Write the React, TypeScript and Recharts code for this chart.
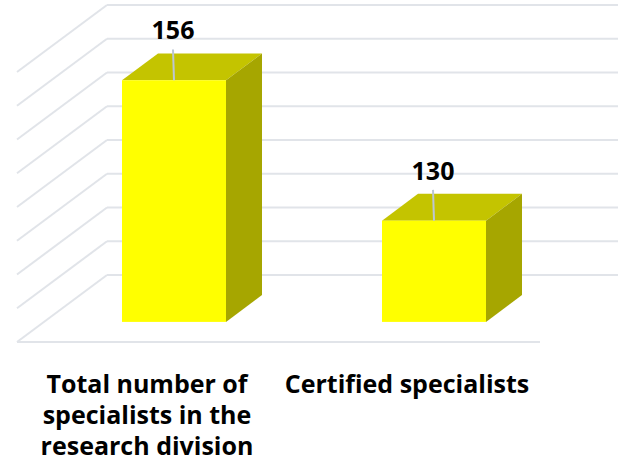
import { BarChart, Bar, XAxis, YAxis, CartesianGrid, LabelList } from "recharts";

const categories = [
    "Total number of specialists in the research division",
    "Certified specialists",
];
const specialists = [156, 130];
const valueTicks = [111.25, 117.5, 123.75, 130, 136.25, 142.5, 148.75, 155, 161.25];

const chartData = categories.map((name, i) => ({ name, value: specialists[i] }));

const WIDTH = 628;
const HEIGHT = 467;
const XAXIS_HEIGHT = 30;
const MARGIN = { top: 5, right: 1, bottom: 192 - XAXIS_HEIGHT, left: 107 };
const FLOOR_BACK = HEIGHT - MARGIN.bottom - XAXIS_HEIGHT;

// oblique 3D offset from back wall to the front edge of the floor
const DEPTH_DX = -90;
const DEPTH_DY = 67;
const BAR_FRONT = 0.7;
const BAR_BACK = 0.3;

const FONT = "'Open Sans', 'Noto Sans', sans-serif";
const GRID = "#e1e4e9";
const WRAP_CHARS = 22;

function wrapWords(label: string) {
    const lines: string[] = [];
    let current = "";
    for (const word of label.split(" ")) {
        const next = current ? `${current} ${word}` : word;
        if (next.length > WRAP_CHARS && current) {
            lines.push(current);
            current = word;
        } else {
            current = next;
        }
    }
    if (current) lines.push(current);
    return lines;
}

function GridLine(props: any) {
    const { x1, y1, x2, y2 } = props;
    const isFloor = Math.abs(y1 - FLOOR_BACK) < 1;
    return (
        <g key={props.key}>
            <line x1={x1} y1={y1} x2={x2} y2={y2} stroke={GRID} strokeWidth={2} />
            <line x1={x1} y1={y1} x2={x1 + DEPTH_DX} y2={y1 + DEPTH_DY} stroke={GRID} strokeWidth={2} />
            {isFloor && (
                <line
                    x1={x1 + DEPTH_DX}
                    y1={y1 + DEPTH_DY}
                    x2={x2 + DEPTH_DX + 3}
                    y2={y2 + DEPTH_DY}
                    stroke={GRID}
                    strokeWidth={2}
                />
            )}
        </g>
    );
}

function Box(props: any) {
    const { x, y, width, height } = props;
    const fx = x + DEPTH_DX * BAR_FRONT;
    const fy = y + DEPTH_DY * BAR_FRONT;
    const bx = x + DEPTH_DX * BAR_BACK;
    const by = y + DEPTH_DY * BAR_BACK;
    return (
        <g>
            <polygon
                points={`${fx},${fy} ${fx + width},${fy} ${bx + width},${by} ${bx},${by}`}
                fill="#c4c400"
            />
            <polygon
                points={`${fx + width},${fy} ${bx + width},${by} ${bx + width},${by + height} ${fx + width},${fy + height}`}
                fill="#a6a600"
            />
            <rect x={fx} y={fy} width={width} height={height} fill="#ffff00" />
        </g>
    );
}

function ValueLabel(props: any) {
    const vb = props.viewBox || props;
    const x = props.x ?? vb.x;
    const y = props.y ?? vb.y;
    const width = props.width ?? vb.width;
    const cx = x + width / 2 + DEPTH_DX * BAR_FRONT;
    const frontTop = y + DEPTH_DY * BAR_FRONT;
    const baseline = y + DEPTH_DY * BAR_BACK - 14;
    return (
        <g>
            <line x1={cx} y1={frontTop} x2={cx - 1} y2={baseline + 10} stroke="#bcc6d4" strokeWidth={2} />
            <text
                x={cx - 1}
                y={baseline}
                textAnchor="middle"
                fontFamily={FONT}
                fontWeight={700}
                fontSize={25}
                fill="#000"
            >
                {props.value}
            </text>
        </g>
    );
}

function CategoryTick(props: any) {
    const { x, y, payload } = props;
    const lines = wrapWords(String(payload.value));
    const tx = x + DEPTH_DX;
    return (
        <text
            x={tx}
            y={y + DEPTH_DY + 51}
            textAnchor="middle"
            fontFamily={FONT}
            fontWeight={700}
            fontSize={25}
            fill="#000"
        >
            {lines.map((line, i) => (
                <tspan key={i} x={tx} dy={i === 0 ? 0 : 31}>
                    {line}
                </tspan>
            ))}
        </text>
    );
}

export default function App() {
    return (
        <div
            style={{
                position: "absolute",
                left: 0,
                top: 0,
                width: 618,
                height: 467,
                overflow: "hidden",
                background: "#fff",
            }}
        >
            <BarChart width={WIDTH} height={HEIGHT} data={chartData} margin={MARGIN} barCategoryGap="30%">
                <CartesianGrid vertical={false} horizontal={GridLine} />
                <XAxis
                    dataKey="name"
                    height={XAXIS_HEIGHT}
                    interval={0}
                    axisLine={false}
                    tickLine={false}
                    tickSize={0}
                    tickMargin={0}
                    tick={CategoryTick}
                />
                <YAxis hide domain={[valueTicks[0], valueTicks[valueTicks.length - 1]]} ticks={valueTicks} />
                <Bar dataKey="value" shape={Box} isAnimationActive={false}>
                    <LabelList dataKey="value" content={ValueLabel} />
                </Bar>
            </BarChart>
        </div>
    );
}
